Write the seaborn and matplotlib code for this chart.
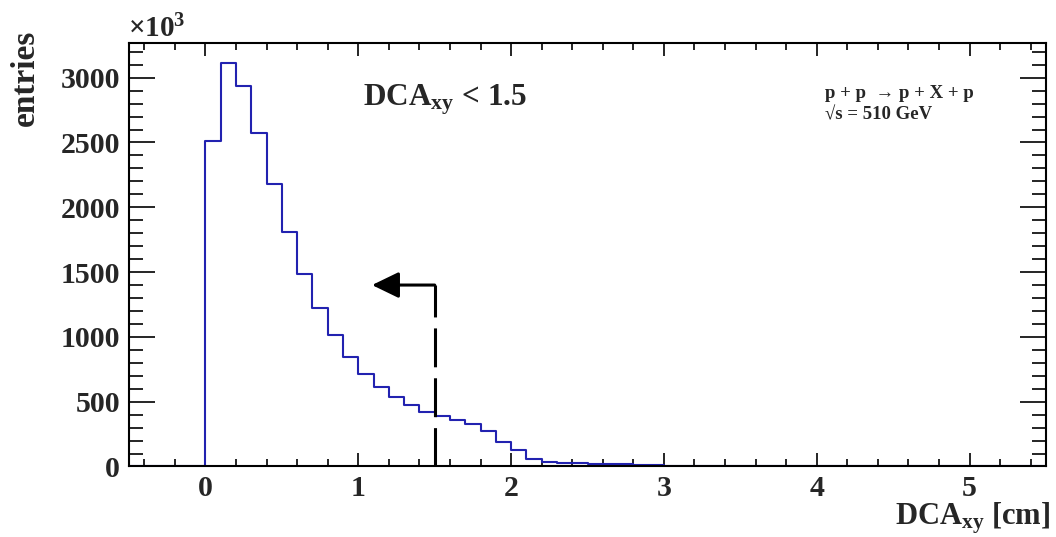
import numpy as np
import pandas as pd
import matplotlib
matplotlib.use("Agg")
import matplotlib.pyplot as plt
import seaborn as sns

# DCA_xy distribution, 0.1 cm bins starting at 0 (entries in units of 10^3)
bin_width = 0.1
first_edge = 0.0
entries = [2510, 3115, 2935, 2575, 2176, 1813, 1489, 1226, 1012, 845,
           711, 613, 533, 474, 422, 391, 358, 327, 270, 188,
           130, 60, 33, 28, 25, 22, 19, 17, 15, 10]
hist_range = (-0.5, 5.5)

x_ticks = [0, 1, 2, 3, 4, 5]
x_tick_labels = ["0", "1", "2", "3", "4", "5"]
y_ticks = [0, 500, 1000, 1500, 2000, 2500, 3000]
y_tick_labels = ["0", "500", "1000", "1500", "2000", "2500", "3000"]
y_max = 3270

# selection cut marker
cut_value = 1.5
arrow_tip = 1.09
arrow_height = 1400

sns.set_style("ticks")
plt.rcParams["font.family"] = ["Liberation Serif", "DejaVu Serif"]
plt.rcParams["font.weight"] = "bold"
plt.rcParams["mathtext.fontset"] = "custom"
plt.rcParams["mathtext.rm"] = "Liberation Serif:bold"
plt.rcParams["mathtext.it"] = "Liberation Serif:bold"
plt.rcParams["mathtext.bf"] = "Liberation Serif:bold"
plt.rcParams["mathtext.sf"] = "Liberation Serif"
plt.rcParams["lines.scale_dashes"] = False

# full binning over the histogram range (empty bins outside the filled region)
n_bins = int(round((hist_range[1] - hist_range[0]) / bin_width))
centers = hist_range[0] + bin_width * (np.arange(n_bins) + 0.5)
counts = np.zeros(n_bins)
start = int(round((first_edge - hist_range[0]) / bin_width))
counts[start:start + len(entries)] = entries
df = pd.DataFrame({"dca": centers, "n": counts})

fig = plt.figure(figsize=(10.56, 5.37), dpi=100)
ax = fig.add_axes([0.1222, 0.1313, 0.8683, 0.7892])

sns.histplot(data=df, x="dca", weights="n", bins=n_bins, binrange=hist_range,
             element="step", fill=False, color="#2222b0", linewidth=1.5, ax=ax)

ax.set_xlim(*hist_range)
ax.set_ylim(0, y_max)
ax.set_xlabel("")
ax.set_ylabel("")

ax.set_xticks(x_ticks)
ax.set_xticklabels(x_tick_labels)
ax.set_xticks(np.arange(-0.4, 5.5, 0.2), minor=True)
ax.set_yticks(y_ticks)
ax.set_yticklabels(y_tick_labels)
ax.set_yticks(np.arange(0, y_max, 100), minor=True)

for s in ax.spines.values():
    s.set_visible(True)
    s.set_linewidth(1.5)
    s.set_color("black")

ax.tick_params(which="both", direction="in", top=True, right=True,
               labelsize=21.5, width=1.2, color="black")
ax.tick_params(axis="x", which="major", length=9.4, pad=6)
ax.tick_params(axis="x", which="minor", length=5)
ax.tick_params(axis="y", which="major", length=18.7, pad=6.5)
ax.tick_params(axis="y", which="minor", length=10)
for lab in ax.get_xticklabels() + ax.get_yticklabels():
    lab.set_fontweight("bold")

# cut line with arrow pointing to accepted region
ax.plot([cut_value, cut_value], [arrow_height, 0], color="black", lw=2.2,
        linestyle=(5, (28, 7.9)), solid_capstyle="butt")
ax.annotate("", xy=(arrow_tip, arrow_height), xytext=(cut_value, arrow_height),
            arrowprops=dict(arrowstyle="-|>,head_length=1.65,head_width=0.8",
                            color="black", lw=2.2, shrinkA=0, shrinkB=0))

# labels
ax.text(1.03, 2789, r"DCA$_{\rm xy}$ < 1.5", fontsize=22.5, fontweight="bold",
        ha="left", va="baseline")
ax.text(4.056, 2845, "p + p  \u2192 p + X + p", fontsize=13.5, fontweight="bold",
        ha="left", va="baseline")
ax.text(4.056, 2680, "\u221as = 510 GeV", fontsize=13.5, fontweight="bold",
        ha="left", va="baseline")

fig.text(128 / 1056, 1 - 37 / 537, r"$\mathsf{\times}$10$^{3}$", fontsize=21,
         fontweight="bold", ha="left", va="baseline")
fig.text(25 / 1056, 1 - 30 / 537, "entries", fontsize=24, fontweight="bold",
         rotation=90, ha="center", va="top")
fig.text(1050 / 1056, 1 - 525 / 537, r"DCA$_{\rm xy}$ [cm]", fontsize=22,
         fontweight="bold", ha="right", va="baseline")

fig.savefig("out.png", dpi=100)
